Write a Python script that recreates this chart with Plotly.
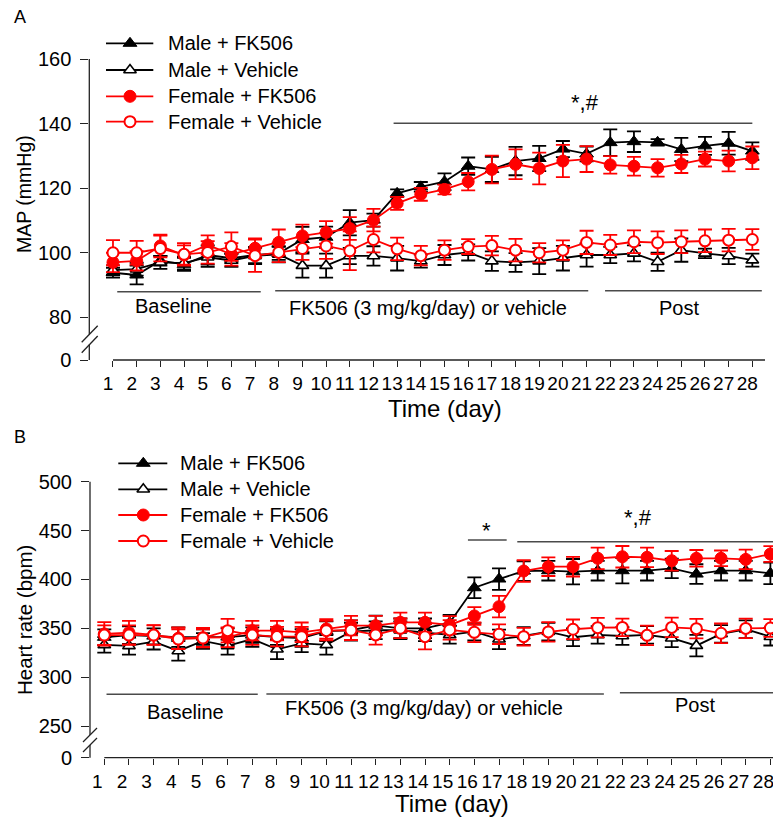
import plotly.graph_objects as go

W, H = 773, 819

days = list(range(1, 29))
day_labels = [str(d) for d in days]

# ---- Panel A: MAP (mmHg) ----
map_male_fk = [93.8, 93.1, 97.5, 96.4, 99.3, 98.3, 99.3, 99.8, 104.1, 104.8, 109.3, 110.1, 118.4, 120.4,
               122.0, 126.8, 125.8, 128.4, 129.2, 132.1, 130.6, 134.1, 134.4, 134.2, 132.0, 133.1, 133.9, 131.5]
map_male_fk_err = [1.5, 2.9, 1.5, 2.0, 3.0, 1.5, 2.5, 2.0, 3.9, 3.3, 3.9, 2.0, 1.2, 1.5,
                   2.6, 2.7, 3.9, 4.4, 3.9, 2.5, 2.3, 4.1, 3.2, 1.0, 3.6, 2.8, 3.5, 2.7]
map_male_veh = [94.6, 94.9, 97.0, 96.8, 98.6, 97.6, 99.0, 99.5, 96.0, 96.0, 99.0, 99.0, 98.3, 97.4,
                99.3, 100.1, 97.4, 97.0, 97.4, 98.3, 99.3, 99.3, 99.8, 97.2, 100.8, 99.8, 99.0, 97.7]
map_male_veh_err = [1.5, 2.0, 2.0, 2.0, 3.0, 2.0, 2.5, 2.5, 3.7, 3.7, 2.5, 3.0, 3.8, 2.0,
                    3.1, 2.5, 3.0, 2.9, 4.0, 3.8, 3.6, 2.5, 2.5, 2.8, 3.6, 1.5, 2.5, 2.0]
map_fem_fk = [97.0, 97.5, 102.1, 99.3, 102.4, 99.5, 101.4, 103.2, 105.2, 106.3, 107.5, 110.1, 115.3, 118.1,
              119.6, 122.0, 125.8, 127.4, 126.1, 128.4, 129.0, 127.2, 126.8, 126.3, 127.5, 129.0, 128.4, 129.4]
map_fem_fk_err = [3.0, 3.0, 3.5, 3.0, 3.0, 3.5, 3.0, 4.0, 3.5, 3.5, 3.5, 3.5, 2.0, 2.0,
                  1.5, 2.7, 4.3, 4.6, 4.9, 5.0, 4.0, 2.7, 2.9, 2.7, 2.8, 2.3, 3.2, 3.5]
map_fem_veh = [100.0, 100.0, 101.3, 99.5, 100.1, 101.9, 99.1, 100.1, 101.3, 102.1, 100.6, 104.1, 101.2, 99.1,
               100.8, 101.9, 102.2, 100.8, 100.0, 100.8, 103.2, 102.4, 103.4, 103.1, 103.4, 103.7, 103.9, 104.1]
map_fem_veh_err = [3.9, 3.7, 4.0, 3.5, 3.5, 4.4, 5.0, 3.0, 3.5, 4.0, 6.0, 4.0, 3.5, 3.0,
                   3.0, 2.3, 3.0, 3.5, 3.0, 3.0, 3.6, 3.1, 3.5, 3.5, 3.5, 3.5, 3.5, 3.2]

# ---- Panel B: Heart rate (bpm) ----
hr_male_fk = [340.8, 343.0, 342.0, 341.0, 341.0, 341.0, 343.0, 341.0, 340.0, 347.0, 348.0, 353.0, 350.0, 350.0,
              355.7, 391.5, 400.4, 408.6, 408.9, 407.9, 408.9, 408.9, 408.9, 411.3, 405.5, 408.9, 408.9, 406.2]
hr_male_fk_err = [8, 9, 8, 10, 8, 9, 8, 8, 9, 10, 10, 10, 10, 10,
                  8, 10.6, 11, 10, 10, 13, 10, 13, 10, 10, 10, 10, 10, 11]
hr_male_veh = [333.0, 332.0, 336.3, 326.8, 337.0, 332.0, 339.0, 328.5, 334.6, 333.0, 346.5, 348.0, 348.0, 345.9,
               343.2, 346.5, 338.7, 342.1, 346.5, 340.8, 343.2, 342.1, 343.2, 339.8, 332.2, 344.2, 349.0, 341.4]
hr_male_veh_err = [8, 9, 8, 10, 8, 9, 8, 10, 9, 10, 9, 9, 9, 9,
                   9, 9, 10, 9, 9, 9, 9, 9, 9, 9, 11, 9, 9, 9]
hr_fem_fk = [344.2, 345.5, 343.2, 339.8, 340.4, 340.8, 347.6, 347.6, 345.9, 349.3, 352.7, 352.7, 356.1, 356.1,
             353.4, 362.6, 372.1, 408.6, 413.0, 413.0, 421.6, 423.2, 422.6, 419.1, 421.6, 421.6, 420.5, 426.0]
hr_fem_fk_err = [12, 12, 10, 11, 10, 10, 10, 10, 10, 10, 10, 10, 10, 10,
                 9, 9, 11, 11, 9.5, 10, 11, 11, 10, 10, 8.5, 8, 10, 8]
hr_fem_veh = [343.0, 343.0, 343.0, 339.0, 340.0, 347.6, 343.0, 341.5, 341.4, 347.6, 348.0, 343.2, 350.0, 341.4,
              348.3, 345.9, 343.9, 341.4, 346.3, 349.0, 350.6, 350.9, 342.8, 350.9, 349.6, 344.9, 349.9, 350.3]
hr_fem_veh_err = [10, 10, 10, 10, 9, 12, 10, 10, 10, 10, 10, 10, 10, 13,
                  10, 10, 10, 9, 10, 10, 10, 9, 10, 10, 10, 10, 10, 9]

series_names = ["Male + FK506", "Male + Vehicle", "Female + FK506", "Female + Vehicle"]
map_ticks = [80, 100, 120, 140, 160]
hr_ticks = [250, 300, 350, 400, 450, 500]

FONT = "Liberation Sans, Arial, sans-serif"
RED = "#ff0000"
BLK = "#000000"
GREY = "#4a4a4a"

styles = [
    dict(symbol="triangle-up", size=12, color=BLK, line=dict(color=BLK, width=1)),
    dict(symbol="triangle-up", size=11, color="white", line=dict(color=BLK, width=1.6)),
    dict(symbol="circle", size=12, color=RED, line=dict(color=RED, width=1)),
    dict(symbol="circle", size=11, color="white", line=dict(color=RED, width=2)),
]
line_cols = [BLK, BLK, RED, RED]


def px(x):
    return x / W


def py(y):
    return 1 - y / H


fig = go.Figure()

panelA = [(map_male_fk, map_male_fk_err), (map_male_veh, map_male_veh_err),
          (map_fem_fk, map_fem_fk_err), (map_fem_veh, map_fem_veh_err)]
panelB = [(hr_male_fk, hr_male_fk_err), (hr_male_veh, hr_male_veh_err),
          (hr_fem_fk, hr_fem_fk_err), (hr_fem_veh, hr_fem_veh_err)]

for (xa, ya, data) in [("x", "y", panelA), ("x2", "y2", panelB)]:
    for i, (vals, errs) in enumerate(data):
        fig.add_trace(go.Scatter(
            x=days, y=vals, mode="lines+markers", name=series_names[i],
            xaxis=xa, yaxis=ya, showlegend=False,
            line=dict(color=line_cols[i], width=1.8),
            marker=styles[i],
            error_y=dict(type="data", array=errs, visible=True, color=line_cols[i],
                         thickness=1.8, width=7),
        ))

# ---- manual legends on a pixel-space overlay axis ----
legend_rows = {
    "A": dict(ys=[43.3, 70.0, 96.3, 121.7], x0=106, x1=153.3, xm=130, xt=166),
    "B": dict(ys=[463.3, 489.3, 515.0, 541.0], x0=118.3, x1=167.3, xm=143.3, xt=178.3),
}
annotations = []
for key, spec in legend_rows.items():
    for i, yy in enumerate(spec["ys"]):
        fig.add_trace(go.Scatter(x=[spec["x0"], spec["x1"]], y=[yy, yy], mode="lines",
                                 line=dict(color=line_cols[i], width=1.8),
                                 xaxis="x3", yaxis="y3", showlegend=False, hoverinfo="skip"))
        fig.add_trace(go.Scatter(x=[spec["xm"]], y=[yy], mode="markers", marker=styles[i],
                                 xaxis="x3", yaxis="y3", showlegend=False, hoverinfo="skip"))
        annotations.append(dict(text=series_names[i], x=px(spec["xt"]), y=py(yy), xref="paper", yref="paper",
                                xanchor="left", yanchor="middle", showarrow=False,
                                font=dict(size=20, family=FONT, color="black")))

# ---- axes geometry ----
A_x0, A_x1 = 89.3, 765.0
A_yb, A_yt = 360.0, 59.0
A_xr = [0, (A_x1 - A_x0) / 23.68]
A_ylo = 80 - (A_yb - 317.3) / 3.229
B_x0, B_x1 = 90.0, 773.0
B_yb, B_yt = 757.7, 481.7
B_xr = [1 - (104.3 - B_x0) / 24.67, 1 + (B_x1 - 104.3) / 24.67]
B_ylo = 250 - (B_yb - 726.0) / 0.9772

tickfont = dict(size=20, family=FONT, color="black")
xtickfont = dict(size=19, family=FONT, color="black")
common_x = dict(tickmode="array", tickvals=days, ticktext=day_labels, ticks="outside", ticklen=6,
                tickwidth=1.2, tickcolor="#222", showgrid=False, zeroline=False, showline=False,
                tickfont=xtickfont, automargin=False, tickangle=0, ticklabeloverflow="allow")
common_y = dict(tickmode="array", ticks="outside", ticklen=8, tickwidth=1.2, tickcolor="#222",
                showgrid=False, zeroline=False, showline=False, tickfont=tickfont, automargin=False,
                ticklabelstandoff=5)

fig.update_layout(
    width=W, height=H, margin=dict(l=0, r=0, t=0, b=0, pad=0), autosize=False,
    paper_bgcolor="white", plot_bgcolor="rgba(0,0,0,0)",
    xaxis=dict(domain=[px(A_x0), px(A_x1)], range=A_xr, anchor="y", ticklabelshift=-5, **common_x),
    yaxis=dict(domain=[py(A_yb), py(A_yt)], range=[A_ylo, 160], anchor="x",
               tickvals=[A_ylo] + map_ticks, ticktext=["0"] + [str(t) for t in map_ticks], **common_y),
    xaxis2=dict(domain=[px(B_x0), px(B_x1)], range=B_xr, anchor="y2", ticklabelshift=-7, **common_x),
    yaxis2=dict(domain=[py(B_yb), py(B_yt)], range=[B_ylo, 500], anchor="x2",
                tickvals=[B_ylo] + hr_ticks, ticktext=["0"] + [str(t) for t in hr_ticks], **common_y),
    xaxis3=dict(domain=[0, 1], range=[0, W], visible=False, anchor="y3", automargin=False),
    yaxis3=dict(domain=[0, 1], range=[H, 0], visible=False, anchor="x3", automargin=False),
    showlegend=False,
)

shapes = []
axis_line = dict(color="#222", width=1.3)
# panel A axis lines with break
shapes += [
    dict(type="line", xref="paper", yref="paper", x0=px(A_x0), x1=px(A_x0), y0=py(A_yt), y1=py(334.4), line=axis_line),
    dict(type="line", xref="paper", yref="paper", x0=px(A_x0), x1=px(A_x0), y0=py(344.8), y1=py(A_yb), line=axis_line),
    dict(type="line", xref="paper", yref="paper", x0=px(81.7), x1=px(97.7), y0=py(342.3), y1=py(325.7), line=axis_line),
    dict(type="line", xref="paper", yref="paper", x0=px(81.7), x1=px(97.7), y0=py(352.7), y1=py(336.0), line=axis_line),
    dict(type="line", xref="x", yref="paper", x0=1, x1=A_xr[1], y0=py(A_yb), y1=py(A_yb), line=axis_line),
]
# panel B axis lines with break
shapes += [
    dict(type="line", xref="paper", yref="paper", x0=px(B_x0), x1=px(B_x0), y0=py(B_yt), y1=py(735.0), line=axis_line),
    dict(type="line", xref="paper", yref="paper", x0=px(B_x0), x1=px(B_x0), y0=py(745.0), y1=py(B_yb), line=axis_line),
    dict(type="line", xref="paper", yref="paper", x0=px(83), x1=px(97), y0=py(742), y1=py(728), line=axis_line),
    dict(type="line", xref="paper", yref="paper", x0=px(83), x1=px(97), y0=py(752), y1=py(738), line=axis_line),
    dict(type="line", xref="x2", yref="paper", x0=1, x1=B_xr[1], y0=py(B_yb), y1=py(B_yb), line=axis_line),
]
# phase bars and significance bars
gl = dict(color=GREY, width=1.5)
shapes += [
    dict(type="line", xref="x", yref="y", x0=1.18, x1=7.24, y0=87.9, y1=87.9, line=gl),
    dict(type="line", xref="x", yref="y", x0=7.85, x1=21.07, y0=88.2, y1=88.2, line=gl),
    dict(type="line", xref="x", yref="y", x0=21.78, x1=28.4, y0=88.2, y1=88.2, line=gl),
    dict(type="line", xref="x", yref="y", x0=12.85, x1=28.0, y0=140.1, y1=140.1, line=gl),
    dict(type="line", xref="x2", yref="y2", x0=1.09, x1=7.22, y0=282.5, y1=282.5, line=gl),
    dict(type="line", xref="x2", yref="y2", x0=7.57, x1=21.25, y0=282.8, y1=282.8, line=gl),
    dict(type="line", xref="x2", yref="y2", x0=21.9, x1=B_xr[1], y0=284.1, y1=284.1, line=gl),
    dict(type="line", xref="x2", yref="y2", x0=15.74, x1=17.31, y0=440.3, y1=440.3, line=gl),
    dict(type="line", xref="x2", yref="y2", x0=17.74, x1=B_xr[1], y0=438.6, y1=438.6, line=gl),
]


def ann(text, x, y, size=20, angle=0):
    return dict(text=text, x=px(x), y=py(y), xref="paper", yref="paper", showarrow=False,
                xanchor="center", yanchor="middle", textangle=angle,
                font=dict(size=size, family=FONT, color="black"))


annotations += [
    ann("A", 20, 17, 18),
    ann("B", 20, 437, 18),
    ann("MAP (mmHg)", 24, 194, 19.5, -90),
    ann("Heart rate (bpm)", 24, 620, 20.5, -90),
    ann("Time (day)", 445, 408, 24),
    ann("Time (day)", 451.7, 803, 24),
    ann("Baseline", 173, 306),
    ann("FK506 (3 mg/kg/day) or vehicle", 427.5, 308),
    ann("Post", 679.3, 308),
    ann("*,#", 585, 102, 22),
    ann("Baseline", 185.8, 711.7),
    ann("FK506 (3 mg/kg/day) or vehicle", 424, 708.3),
    ann("Post", 694.7, 705),
    ann("*", 487, 530, 22),
    ann("*,#", 638, 517, 22),
]

fig.update_layout(shapes=shapes, annotations=annotations)
fig.write_html("out.html", config={"displayModeBar": False},
               post_script="document.body.style.margin='0';document.body.style.padding='0';document.body.style.overflow='hidden';")
